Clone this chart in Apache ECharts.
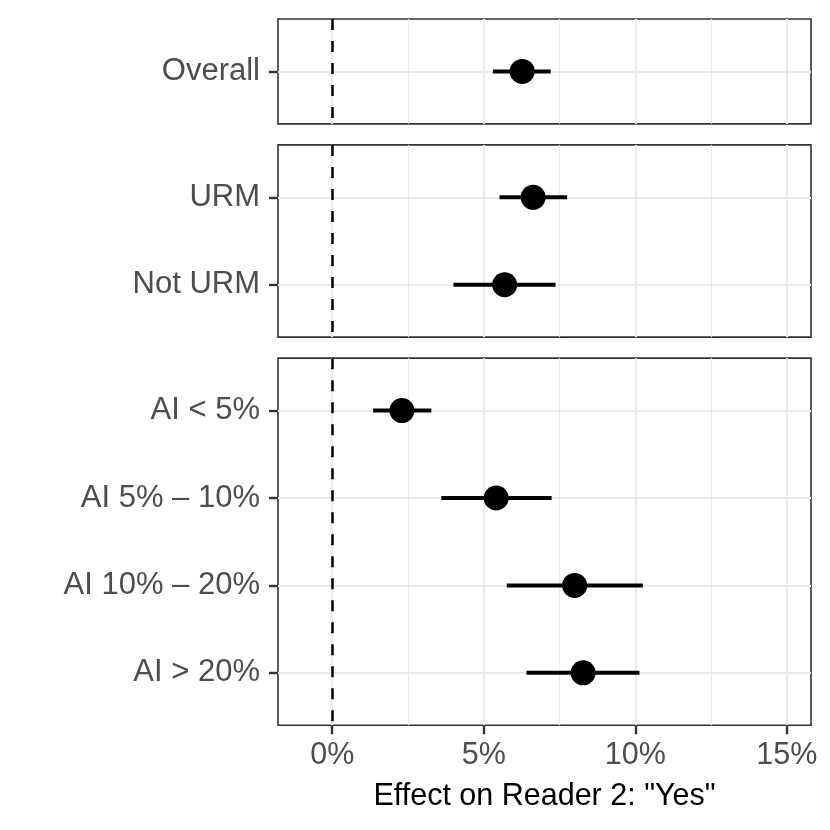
<!DOCTYPE html>
<html>
<head>
<meta charset="utf-8">
<script src="https://cdn.jsdelivr.net/npm/echarts@6/dist/echarts.min.js"></script>
<style>
  html, body { margin: 0; padding: 0; background: #fff; }
  #chart { width: 830px; height: 830px; }
</style>
</head>
<body>
<div id="chart"></div>
<script>
  // facet rows, top to bottom
  const groups = [
    ['Overall'],
    ['URM', 'Not URM'],
    ['AI < 5%', 'AI 5% – 10%', 'AI 10% – 20%', 'AI > 20%']
  ]
  // point estimate and 95% interval, in percent
  const estimates = [[6.27], [6.63, 5.69], [2.30, 5.41, 8.00, 8.28]]
  const lower = [[5.30], [5.52, 4.00], [1.35, 3.60, 5.76, 6.41]]
  const upper = [[7.21], [7.75, 7.37], [3.27, 7.24, 10.25, 10.14]]
  const xMajor = [0, 5, 10, 15]
  const xMinor = [2.5, 7.5, 12.5]
  const xMin = -1.79
  const xMax = 15.8
  const xTitle = 'Effect on Reader 2: "Yes"'

  const font = 'Liberation Sans, Arial, sans-serif'
  const rowH = 87.4
  const gap = 21
  const last = groups.length - 1

  const grid = []
  const xAxis = []
  const yAxis = []
  const series = []
  let panelTop = 19
  groups.forEach((names, i) => {
    const h = (names.length + 0.2) * rowH
    grid.push({
      left: 278, right: 19, top: panelTop, height: h,
      show: true, backgroundColor: '#fff', borderColor: '#333', borderWidth: 1.6
    })
    panelTop += h + gap

    const isLast = i === last
    // major gridlines, ticks and labels
    xAxis.push({
      type: 'value', gridIndex: i, min: xMin, max: xMax,
      axisLine: { show: false, onZero: false },
      axisTick: { show: isLast, customValues: xMajor, length: 9, lineStyle: { color: '#333', width: 2.4 } },
      axisLabel: {
        show: isLast, customValues: xMajor, margin: 15,
        formatter: v => v + '%', fontSize: 30.5, color: '#4D4D4D', fontFamily: font
      },
      splitLine: { show: true, lineStyle: { color: '#EBEBEB', width: 2.2 } },
      name: isLast ? xTitle : '', nameLocation: 'middle', nameGap: 56,
      nameTextStyle: { fontSize: 30.5, color: '#000', fontFamily: font }
    })
    // minor gridlines only
    xAxis.push({
      type: 'value', gridIndex: i, min: xMin, max: xMax,
      axisLine: { show: false, onZero: false },
      axisTick: { show: false, customValues: xMinor },
      axisLabel: { show: false, customValues: xMinor },
      splitLine: { show: true, lineStyle: { color: '#EBEBEB', width: 1.1 } }
    })
    const idx = names.map((n, k) => k)
    yAxis.push({
      type: 'value', gridIndex: i, inverse: true,
      min: -0.6, max: names.length - 0.4,
      axisLine: { show: false, onZero: false },
      axisTick: { show: true, customValues: idx, length: 9, lineStyle: { color: '#333', width: 2.4 } },
      axisLabel: {
        customValues: idx, margin: 18,
        formatter: v => names[Math.round(v)], fontSize: 31, color: '#4D4D4D', fontFamily: font
      },
      splitLine: { show: true, lineStyle: { color: '#EBEBEB', width: 2.2 } }
    })

    series.push({
      type: 'custom',
      xAxisIndex: 2 * i, yAxisIndex: i,
      encode: { x: [0, 1], y: 2 },
      data: names.map((n, k) => [lower[i][k], upper[i][k], k]),
      renderItem(params, api) {
        const a = api.coord([api.value(0), api.value(2)])
        const b = api.coord([api.value(1), api.value(2)])
        return {
          type: 'line',
          shape: { x1: a[0], y1: a[1], x2: b[0], y2: b[1] },
          style: { stroke: '#000', lineWidth: 4 }
        }
      }
    })
    series.push({
      type: 'scatter',
      xAxisIndex: 2 * i, yAxisIndex: i,
      symbolSize: 25,
      itemStyle: { color: '#000', opacity: 1 },
      data: names.map((n, k) => [estimates[i][k], k]),
      markLine: {
        silent: true, symbol: 'none', label: { show: false },
        lineStyle: { color: '#000', type: [11, 11], width: 2.5 },
        data: [{ xAxis: 0 }]
      },
      z: 3
    })
  })

  const chart = echarts.init(document.getElementById('chart'))
  chart.setOption({
    backgroundColor: '#fff',
    animation: false,
    grid: grid,
    xAxis: xAxis,
    yAxis: yAxis,
    series: series
  })
</script>
</body>
</html>
